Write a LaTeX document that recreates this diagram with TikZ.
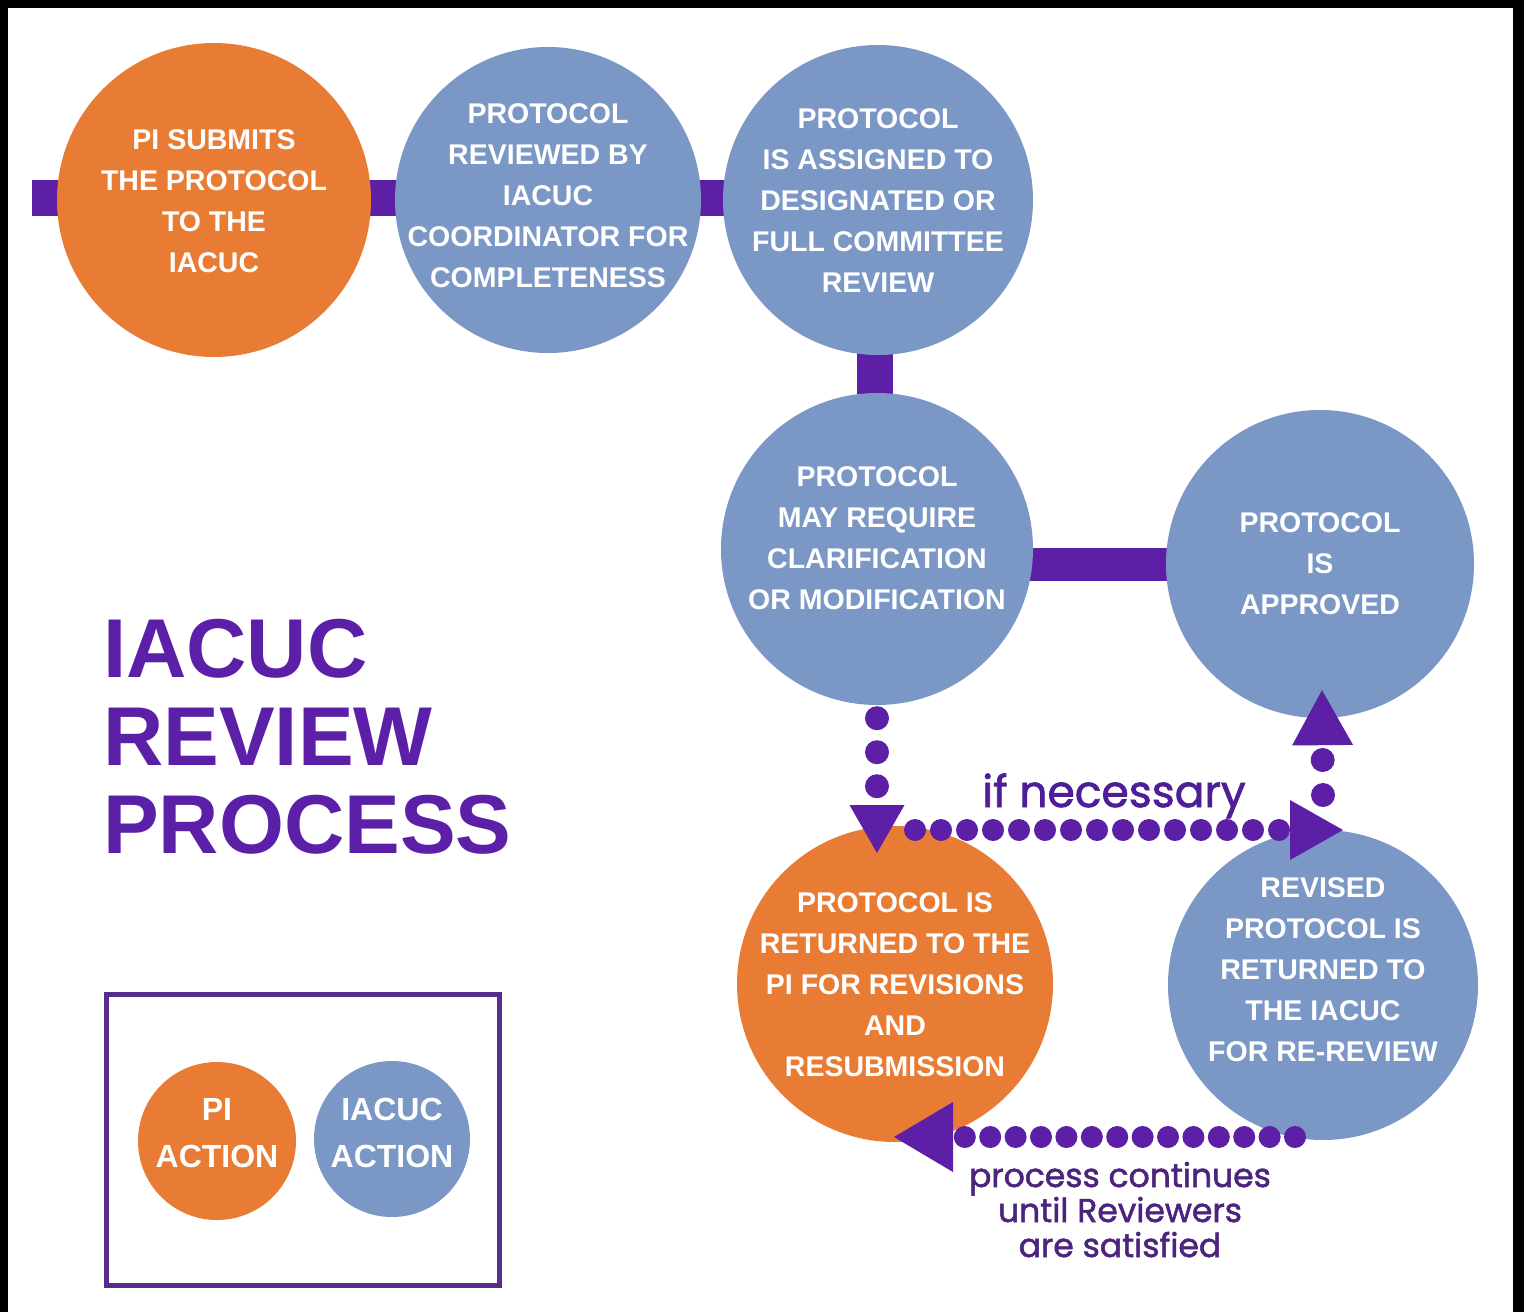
\documentclass[tikz,border=0pt]{standalone}
\usepackage{fontspec}
\setmainfont{Liberation Sans}
\newfontfamily\popfont[FakeBold=1.6]{Poppins}
\usetikzlibrary{arrows.meta,calc}
\definecolor{orng}{RGB}{233,124,52}
\definecolor{blu}{RGB}{122,151,197}
\definecolor{purp}{RGB}{92,31,166}
\definecolor{ttl}{RGB}{92,32,168}
\definecolor{boxc}{RGB}{88,45,140}
\definecolor{lbl}{RGB}{78,30,150}
\definecolor{lbl2}{RGB}{76,36,125}
\pgfdeclarelayer{back}
\pgfdeclarelayer{bg}
\pgfsetlayers{back,bg,main}
\begin{document}
\begin{tikzpicture}[x=1pt,y=-1pt,
  disc/.style={circle,inner sep=0pt,minimum size=#1},
  pia/.style={disc=#1,fill=orng},
  iaa/.style={disc=#1,fill=blu},
  ctext/.style={text=white,font=\bfseries\fontsize{28.5}{41}\selectfont,align=center,inner sep=0pt},
  ltext/.style={text=white,font=\bfseries\fontsize{32}{47}\selectfont,align=center,inner sep=0pt},
  bar/.style={draw=purp,line width=#1},
  dotpath/.style={draw=purp,line cap=round,dash pattern=on 0pt off #1},
  title/.style={anchor=base west,text=ttl,font=\bfseries\fontsize{83.5}{88}\selectfont,inner sep=0pt},
]
\useasboundingbox (0,0) rectangle (1524,1312);
\begin{pgfonlayer}{back}
\fill[black] (0,0) rectangle (1524,1312);
\fill[white] (8,8) rectangle (1513,1312);
\end{pgfonlayer}

% circles
\node[pia=314pt] (c1) at (214,200) {};
\node[iaa=306pt] (c2) at (548,200) {};
\node[iaa=310pt] (c3) at (878,200) {};
\node[iaa=312pt] (c4) at (877,549) {};
\node[iaa=308pt] (c5) at (1320,564) {};
\node[pia=316pt] (c6) at (895,984) {};
\node[iaa=310pt] (c7) at (1323,985) {};

% bars
\coordinate (stub) at (32,198);
\begin{pgfonlayer}{bg}
\draw[bar=36pt] (stub) -- (stub -| c1.center);
\draw[bar=36pt] (stub -| c1.center) -- (stub -| c2.center);
\draw[bar=36pt] (stub -| c2.center) -- (stub -| c3.center);
\draw[bar=36pt] (c3.center -| 875,0) -- (c4.center -| 875,0);
\draw[bar=33pt] (c5.center) -- (c5.center -| c4.center);
\end{pgfonlayer}

% circle texts
\node[ctext] (t1) at ($(c1.center)+(0,1.5)$) {PI SUBMITS\\THE PROTOCOL\\TO THE\\IACUC};
\node[ctext] (t2) at ($(c2.center)+(0,-4)$) {PROTOCOL\\REVIEWED BY\\IACUC\\COORDINATOR FOR\\COMPLETENESS};
\node[ctext] (t3) at ($(c3.center)+(0,1)$) {PROTOCOL\\IS ASSIGNED TO\\DESIGNATED OR\\FULL COMMITTEE\\REVIEW};
\node[ctext] (t4) at ($(c4.center)+(0,-11)$) {PROTOCOL\\MAY REQUIRE\\CLARIFICATION\\OR MODIFICATION};
\node[ctext] (t5) at (c5.center) {PROTOCOL\\IS\\APPROVED};
\node[ctext] (t6) at ($(c6.center)+(0,1)$) {PROTOCOL IS\\RETURNED TO THE\\PI FOR REVISIONS\\AND\\RESUBMISSION};
\node[ctext] (t7) at ($(c7.center)+(0,-15)$) {REVISED\\PROTOCOL IS\\RETURNED TO\\THE IACUC\\FOR RE-REVIEW};

% dotted arrows
\coordinate (dnend) at (c4.south |- 0,853);
\draw[dotpath=34pt,line width=24pt,shorten <=13pt,
  -{Triangle[length=48pt,width=55pt,line width=0pt]}] (c4.south) -- (dnend);
\coordinate (hs) at (915,830);
\coordinate (he) at (1343,830);
\draw[dotpath=26pt,line width=22pt,
  -{Triangle[length=53pt,width=60pt,line width=0pt]}] (hs) -- (he);
\coordinate (us) at (1323,795);
\coordinate (ue) at ($(c5.south)+(2,-28)$);
\draw[dotpath=35pt,line width=24pt,
  -{Triangle[length=55pt,width=61pt,line width=0pt]}] (us) -- (ue);
\coordinate (bs) at (1295,1137);
\coordinate (be) at (894,1137);
\draw[dotpath=25.4pt,line width=22pt,
  -{Triangle[length=59pt,width=70pt,line width=0pt]}] (bs) -- (be);

% labels
\node[anchor=base,inner sep=0pt,text=lbl,font=\popfont\fontsize{44}{44}\selectfont] (ifn) at (1114,807) {if necessary};
\node[anchor=base,inner sep=0pt,text=lbl2,font=\popfont\fontsize{33}{35}\selectfont,align=center] (pc) at (1120,1257) {process continues\\until Reviewers\\are satisfied};

% title
\node[title] (ti1) at (103,677) {IACUC};
\node[title] (ti2) at (103,765) {REVIEW};
\node[title] (ti3) at (103,853) {PROCESS};

% legend
\node[draw=boxc,line width=5pt,minimum width=393pt,minimum height=291pt,inner sep=0pt] (legend) at (303,1140) {};
\node[pia=158pt] (l1) at (217,1141) {};
\node[iaa=156pt] (l2) at (392,1139) {};
\node[ltext] (lt1) at ($(l1.center)+(0,-8)$) {PI\\ACTION};
\node[ltext] (lt2) at ($(l2.center)+(0,-6)$) {IACUC\\ACTION};
\end{tikzpicture}
\end{document}
